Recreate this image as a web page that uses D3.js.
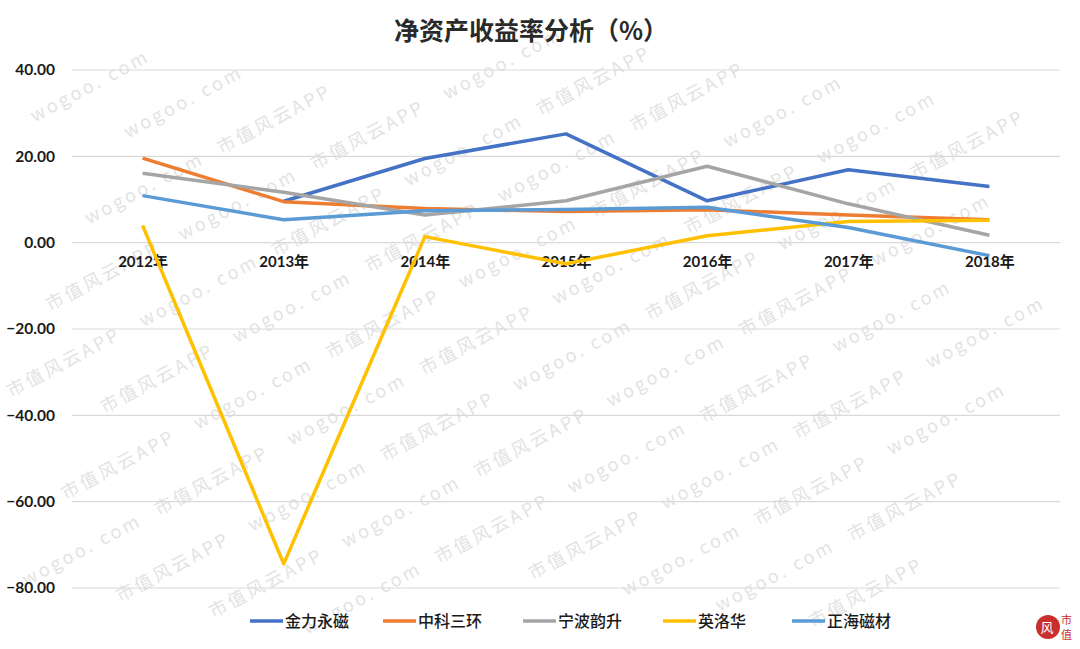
<!DOCTYPE html>
<html>
<head>
<meta charset="utf-8">
<script src="https://cdn.jsdelivr.net/npm/d3@7"></script>
<style>
  body { margin: 0; background: #fff; }
  svg { display: block; }
</style>
</head>
<body>
<div id="chart"></div>
<script>
// data
var years = ["2012年", "2013年", "2014年", "2015年", "2016年", "2017年", "2018年"];
var seriesNames = ["金力永磁", "中科三环", "宁波韵升", "英洛华", "正海磁材"];
var jinli   = [null, 9.6, 19.5, 25.2, 9.7, 16.9, 13.0];
var zhongke = [19.6, 9.5, 7.9, 7.2, 7.6, 6.4, 5.3];
var ningbo  = [16.1, 11.7, 6.4, 9.7, 17.7, 9.0, 1.7];
var yingluo = [4.0, -74.4, 1.4, -4.9, 1.6, 4.9, 5.2];
var zhenghai = [10.9, 5.3, 7.4, 7.7, 8.2, 3.5, -3.0];
var yTicks = [40, 20, 0, -20, -40, -60, -80];
var watermarkTexts = ["wogoo. com", "市值风云APP"];

var colors = ["#4472C4", "#ED7D31", "#A5A5A5", "#FFC000", "#5B9BD5"];
var allSeries = [jinli, zhongke, ningbo, yingluo, zhenghai];

var svgWidth = 1080;
var svgHeight = 649;
var margin = { top: 70, right: 20, bottom: 61, left: 72 };
var chartWidth = svgWidth - margin.left - margin.right;
var chartHeight = svgHeight - margin.top - margin.bottom;

var svg = d3.select("#chart")
  .append("svg")
  .attr("width", svgWidth)
  .attr("height", svgHeight);

svg.append("rect")
  .attr("width", svgWidth)
  .attr("height", svgHeight)
  .attr("fill", "white");

// watermark: rows along a -28deg direction, keep pieces that fit inside
var wm = svg.append("g").attr("class", "watermark");
var ang = 28 * Math.PI / 180;
var ux = Math.cos(ang), uy = -Math.sin(ang);   // along text
var vx = Math.sin(ang), vy = Math.cos(ang);    // across rows
var step = 150, rowGap = 58;
for (var j = -6; j < 24; j++) {
  for (var i = -6; i < 14; i++) {
    var along = i * step + (j % 2 ? step / 2 : 0);
    var wx = along * ux + j * rowGap * vx - 20;
    var wy = along * uy + j * rowGap * vy + 20;
    var t = wm.append("text")
      .attr("transform", `translate(${wx.toFixed(1)}, ${wy.toFixed(1)}) rotate(-28)`)
      .attr("font-family", "Noto Sans CJK SC")
      .attr("font-size", 18)
      .attr("letter-spacing", 3)
      .attr("fill", "#e3e3e3")
      .text(watermarkTexts[((i % 2) + 2) % 2]);
    var len = t.node().getComputedTextLength() + 30;
    var ex = wx + len * ux, ey = wy + len * uy;
    var topY = ey - 16 * vy, rightX = ex;
    if (wx - 16 * vx < 1 || rightX > svgWidth - 1 || topY < 1 || wy + 4 > svgHeight - 1) t.remove();
  }
}

var g = svg.append("g")
  .attr("transform", `translate(${margin.left}, ${margin.top})`);

var x = d3.scalePoint()
  .domain(years)
  .range([0, chartWidth])
  .padding(0.5);

var y = d3.scaleLinear()
  .domain([-80, 40])
  .range([chartHeight, 0]);

// gridlines
g.append("g")
  .selectAll("line")
  .data(yTicks)
  .enter()
  .append("line")
  .attr("x1", 0)
  .attr("x2", chartWidth)
  .attr("y1", d => y(d))
  .attr("y2", d => y(d))
  .attr("stroke", "#d9d9d9")
  .attr("stroke-width", 1.2);

// y axis labels
var leftAxis = d3.axisLeft(y).tickValues(yTicks).tickFormat(d3.format(".2f")).tickSize(0).tickPadding(17);
g.append("g")
  .call(leftAxis)
  .call(ax => ax.select(".domain").remove())
  .selectAll("text")
  .attr("font-family", "Lato, 'Liberation Sans', sans-serif")
  .attr("font-weight", "bold")
  .attr("font-size", 15.5)
  .attr("fill", "#1a1a1a");

// x axis labels (at the zero line)
var bottomAxis = d3.axisBottom(x).tickSize(0).tickPadding(14);
g.append("g")
  .attr("transform", `translate(0, ${y(0)})`)
  .call(bottomAxis)
  .call(ax => ax.select(".domain").remove())
  .selectAll("text")
  .attr("font-family", "Lato, 'Noto Sans CJK SC', sans-serif")
  .attr("font-weight", "bold")
  .attr("font-size", 15)
  .attr("fill", "#1a1a1a");

// lines
var line = d3.line()
  .defined(d => d.v !== null)
  .x(d => x(d.year))
  .y(d => y(d.v));

allSeries.forEach(function (vals, i) {
  var pts = vals.map((v, j) => ({ year: years[j], v: v }));
  g.append("path")
    .datum(pts)
    .attr("fill", "none")
    .attr("stroke", colors[i])
    .attr("stroke-width", 3.5)
    .attr("stroke-linejoin", "round")
    .attr("d", line);
});

// title
svg.append("text")
  .attr("x", 531)
  .attr("y", 40)
  .attr("text-anchor", "middle")
  .attr("font-family", "Noto Sans CJK SC")
  .attr("font-weight", "bold")
  .attr("font-size", 25)
  .attr("fill", "#2a2a2a")
  .text("净资产收益率分析（%）");

// legend
var legendX = [250, 383, 523, 663, 792];
var legend = svg.append("g").attr("transform", "translate(0, 621)");
seriesNames.forEach(function (name, i) {
  legend.append("line")
    .attr("x1", legendX[i])
    .attr("x2", legendX[i] + 33)
    .attr("y1", 0)
    .attr("y2", 0)
    .attr("stroke", colors[i])
    .attr("stroke-width", 3.5);
  legend.append("text")
    .attr("x", legendX[i] + 35)
    .attr("y", 6)
    .attr("font-family", "Noto Sans CJK SC")
    .attr("font-weight", 500)
    .attr("font-size", 16)
    .attr("fill", "#1a1a1a")
    .text(name);
});

// little logo bottom right
var logo = svg.append("g").attr("transform", "translate(1048, 627)");
logo.append("circle").attr("r", 12).attr("fill", "#c9302c");
logo.append("text")
  .attr("x", -1).attr("y", 5)
  .attr("text-anchor", "middle")
  .attr("font-family", "Noto Sans CJK SC")
  .attr("font-size", 13)
  .attr("fill", "white")
  .text("风");
logo.append("text")
  .attr("x", 13).attr("y", -3)
  .attr("font-family", "Noto Sans CJK SC")
  .attr("font-size", 11)
  .attr("fill", "#c9302c")
  .text("市");
logo.append("text")
  .attr("x", 13).attr("y", 12)
  .attr("font-family", "Noto Sans CJK SC")
  .attr("font-size", 11)
  .attr("fill", "#c9302c")
  .text("值");
</script>
</body>
</html>
